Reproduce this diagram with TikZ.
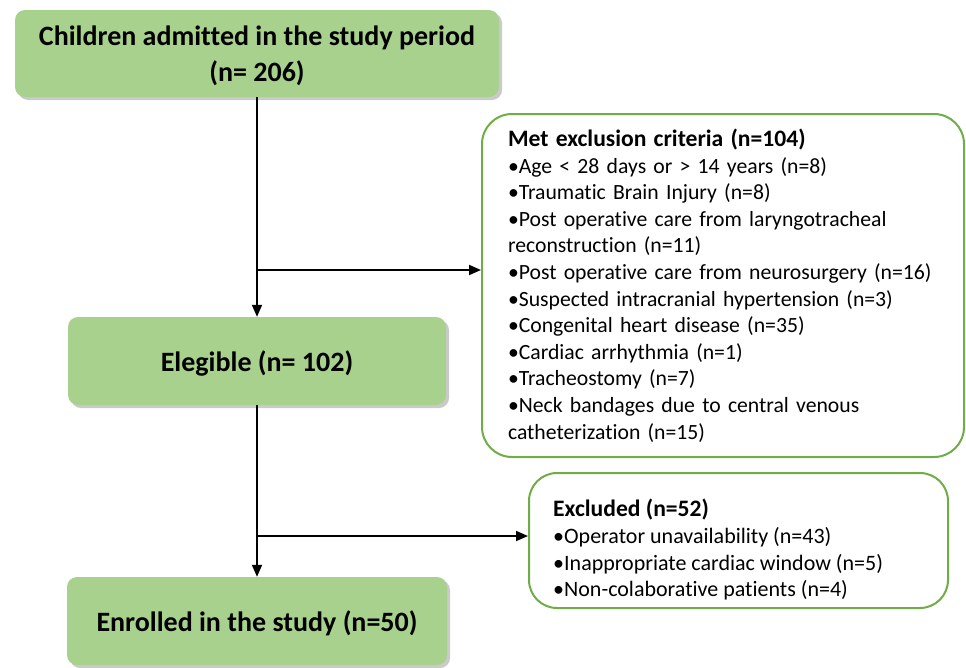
\documentclass[tikz,border=0pt]{standalone}
\usepackage{fontspec}
\setmainfont{Carlito}[Ligatures=NoCommon]
\usetikzlibrary{arrows.meta,shadows.blur,shadows}
\definecolor{boxgreen}{HTML}{A9D18E}
\definecolor{linegreen}{HTML}{70AD47}
\newcommand{\boxtitle}[1]{{\fontsize{23.6}{26.6}\selectfont\bfseries #1}}
\tikzset{
  greenbox/.style={draw=none, fill=boxgreen, rounded corners=10pt, align=center,
    font=\fontsize{28}{36}\selectfont\bfseries, inner sep=0pt, text depth=0pt,
    drop shadow={opacity=0.35, shadow xshift=3pt, shadow yshift=-3pt, fill=black!60}},
  whitebox/.style={draw=linegreen, line width=2pt, fill=white, align=left,
    font=\fontsize{21.7}{26.6}\selectfont, inner ysep=0pt},
  conn/.style={line width=1.8pt, draw=black},
  arr/.style={conn, -{Triangle[length=12pt,width=10pt]}}
}
\begin{document}
\begin{tikzpicture}[x=1pt,y=-1pt]
\useasboundingbox (0,0) rectangle (966,667);
\node[greenbox, minimum width=484pt, minimum height=87pt] (b1) at (257,53.5)
  {Children admitted in the study period\\(n= 206)};
\node[greenbox, minimum width=378pt, minimum height=88pt] (b2) at (257,361)
  {Elegible (n= 102)};
\node[greenbox, minimum width=380pt, minimum height=88pt] (b3) at (257,621)
  {Enrolled in the study (n=50)};
\node[whitebox, rounded corners=30pt, minimum width=482pt, minimum height=343pt,
  text width=430pt, inner xsep=26pt] (ex1) at (723,285.5)
  {\boxtitle{Met exclusion criteria (n=104)}\\
   •Age < 28 days or > 14 years (n=8)\\
   •Traumatic Brain Injury (n=8)\\
   •Post operative care from laryngotracheal\\
   reconstruction (n=11)\\
   •Post operative care from neurosurgery (n=16)\\
   •Suspected intracranial hypertension (n=3)\\
   •Congenital heart disease (n=35)\\
   •Cardiac arrhythmia (n=1)\\
   •Tracheostomy (n=7)\\
   •Neck bandages due to central venous\\
   catheterization (n=15)};
\node[whitebox, rounded corners=28pt, minimum width=419pt, minimum height=135pt] (ex2) at (738.5,540.5) {};
\node[align=left, anchor=north west, inner sep=0pt, font=\fontsize{22}{26.7}\selectfont] (ex2t) at (553,499)
  {\boxtitle{Excluded (n=52)}\\
   •Operator unavailability (n=43)\\
   •Inappropriate cardiac window (n=5)\\
   •Non-colaborative patients (n=4)};
\coordinate (j1) at (257,270);
\coordinate (j2) at (257,536);
\draw[arr] (b1.south) -- (b2.north);
\draw[arr] (b2.south) -- (b3.north);
\draw[arr] (j1) -- (j1 -| ex1.west);
\draw[arr] (j2) -- (j2 -| ex2.west);
\end{tikzpicture}
\end{document}
